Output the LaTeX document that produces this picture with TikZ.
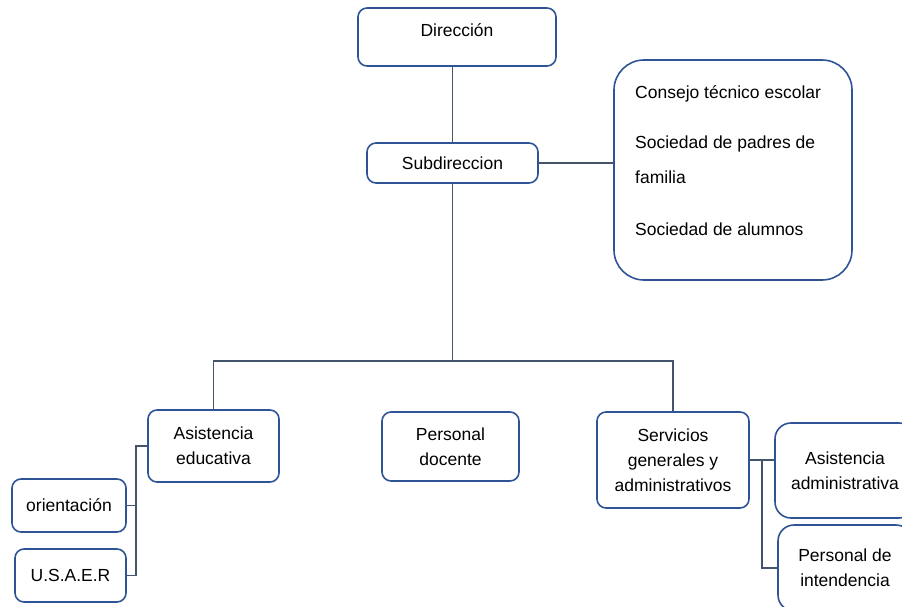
\documentclass[tikz,border=0pt]{standalone}
\usepackage{fontspec}
\setmainfont{Liberation Sans}
\definecolor{borde}{RGB}{47,84,150}
\definecolor{linea}{RGB}{68,84,106}
\begin{document}
\begin{tikzpicture}[x=1pt,y=-1pt,
	caja/.style={draw=borde,line width=1.6pt,rounded corners=9pt,align=center,font=\fontsize{17.5}{25}\selectfont,inner sep=2pt},
	enlace/.style={draw=linea,line width=1.5pt}]
	\useasboundingbox (0,0) rectangle (902,607);
	\clip (0,0) rectangle (902,607);
	\node[caja,minimum width=198,minimum height=58,text height=14pt,text depth=14pt] (dir) at (457,37) {Dirección};
	\node[caja,minimum width=171,minimum height=40] (sub) at (452.5,163) {Subdireccion};
	\node[caja,rounded corners=30pt,minimum width=238,minimum height=220] (consejo) at (733,170) {};
	\node[align=left,anchor=north west,inner sep=0pt,font=\fontsize{17.5}{35}\selectfont] (lista) at (635,85)
		{Consejo técnico escolar\\[15pt] Sociedad de padres de\\ familia\\[17pt] Sociedad de alumnos};
	\node[caja,minimum width=131,minimum height=72] (asist) at (213.5,446) {Asistencia\\ educativa};
	\node[caja,minimum width=137,minimum height=69] (docente) at (450.5,446.5) {Personal\\ docente};
	\node[caja,minimum width=152,minimum height=96] (serv) at (673,460) {Servicios\\ generales y\\ administrativos};
	\node[caja,minimum width=114,minimum height=53] (orient) at (69,505.5) {orientación};
	\node[caja,minimum width=111,minimum height=53] (usaer) at (70.5,575.5) {U.S.A.E.R};
	\node[caja,rounded corners=16pt,minimum width=140,minimum height=95] (admin) at (845,470.5) {Asistencia\\ administrativa};
	\node[caja,rounded corners=16pt,minimum width=134,minimum height=86] (intend) at (845,568) {Personal de\\ intendencia};
	\coordinate (bus) at (452.5,361);
	\draw[enlace] (sub.north) -- (sub.north |- dir.south);
	\draw[enlace] (sub.east) -- (sub.east -| consejo.west);
	\draw[enlace] (sub.south) -- (bus);
	\draw[enlace] (asist.north) |- (bus) -| (serv.north);
	\draw[enlace] (asist.west) -- ++(-11,0) coordinate (izq) |- (usaer.east);
	\draw[enlace] (izq |- orient.east) -- (orient.east);
	\draw[enlace] (serv.east) -- (serv.east -| admin.west);
	\draw[enlace] (serv.east) ++(12,0) coordinate (der) |- (intend.west);
\end{tikzpicture}
\end{document}
